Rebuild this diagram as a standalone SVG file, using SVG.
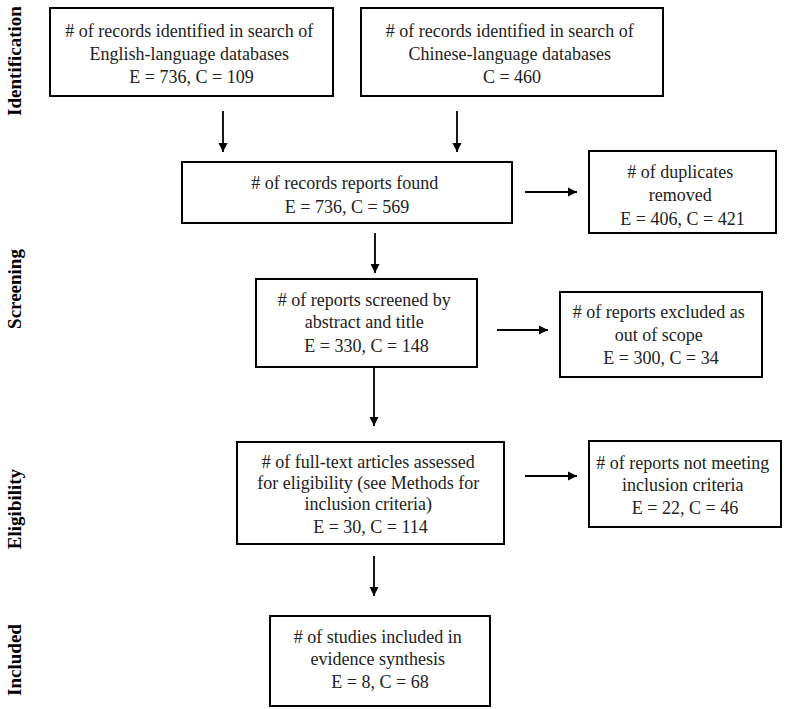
<svg xmlns="http://www.w3.org/2000/svg" width="796" height="709" viewBox="0 0 796 709">
<style>
.box{fill:#fff;stroke:#000;stroke-width:2}
.t{font-family:"Liberation Serif","Times New Roman","DejaVu Serif",serif;font-size:18px;fill:#222;text-anchor:middle}
.side{font-family:"Liberation Serif","Times New Roman","DejaVu Serif",serif;font-size:19px;font-weight:bold;fill:#000;text-anchor:middle}
.c{stroke:#000;stroke-width:1.8;fill:none;marker-end:url(#ah)}
</style>
<defs>
<marker id="ah" viewBox="0 0 10 10" refX="10" refY="5" markerUnits="userSpaceOnUse" markerWidth="9" markerHeight="10" orient="auto">
<path d="M0,0 L10,5 L0,10 Z" fill="#000"/>
</marker>
</defs>
<rect width="796" height="709" fill="#fff"/>
<g id="phases">
<text class="side" transform="translate(21,61) rotate(-90)">Identification</text>
<text class="side" transform="translate(21,289) rotate(-90)">Screening</text>
<text class="side" transform="translate(21,509) rotate(-90)">Eligibility</text>
<text class="side" transform="translate(21,660) rotate(-90)">Included</text>
</g>
<g id="connectors">
<line class="c" x1="223" y1="111" x2="223" y2="152"/>
<line class="c" x1="457" y1="111" x2="457" y2="152"/>
<line class="c" x1="525" y1="192" x2="577" y2="192"/>
<line class="c" x1="375" y1="233" x2="375" y2="273"/>
<line class="c" x1="497" y1="330" x2="548" y2="330"/>
<line class="c" x1="374" y1="368" x2="374" y2="426"/>
<line class="c" x1="525" y1="476" x2="577" y2="476"/>
<line class="c" x1="374" y1="556" x2="374" y2="596"/>
</g>
<g id="n_english">
<rect class="box" x="50" y="8" width="283" height="88"/>
<text class="t">
<tspan x="191.5" y="37"># of records identified in search of</tspan>
<tspan x="191.5" y="60">English-language databases</tspan>
<tspan x="191.5" y="83">E = 736, C = 109</tspan>
</text>
</g>
<g id="n_chinese">
<rect class="box" x="361" y="8" width="302" height="88"/>
<text class="t">
<tspan x="512" y="37"># of records identified in search of</tspan>
<tspan x="512" y="60">Chinese-language databases</tspan>
<tspan x="512" y="83">C = 460</tspan>
</text>
</g>
<g id="n_found">
<rect class="box" x="182" y="162" width="330" height="61"/>
<text class="t">
<tspan x="347" y="189"># of records reports found</tspan>
<tspan x="347" y="213">E = 736, C = 569</tspan>
</text>
</g>
<g id="n_duplicates">
<rect class="box" x="589" y="151" width="187" height="82"/>
<text class="t">
<tspan x="682.5" y="178"># of duplicates</tspan>
<tspan x="682.5" y="201">removed</tspan>
<tspan x="682.5" y="225">E = 406, C = 421</tspan>
</text>
</g>
<g id="n_screened">
<rect class="box" x="256" y="279" width="221" height="88"/>
<text class="t">
<tspan x="366.5" y="306"># of reports screened by</tspan>
<tspan x="366.5" y="328">abstract and title</tspan>
<tspan x="366.5" y="352">E = 330, C = 148</tspan>
</text>
</g>
<g id="n_excluded">
<rect class="box" x="560" y="292" width="202" height="85"/>
<text class="t">
<tspan x="661" y="318"># of reports excluded as</tspan>
<tspan x="661" y="341">out of scope</tspan>
<tspan x="661" y="364">E = 300, C = 34</tspan>
</text>
</g>
<g id="n_fulltext">
<rect class="box" x="237" y="442" width="267" height="102"/>
<text class="t">
<tspan x="370.5" y="468"># of full-text articles assessed</tspan>
<tspan x="370.5" y="489">for eligibility (see Methods for</tspan>
<tspan x="370.5" y="510">inclusion criteria)</tspan>
<tspan x="370.5" y="533">E = 30, C = 114</tspan>
</text>
</g>
<g id="n_notmeeting">
<rect class="box" x="589" y="441" width="192" height="86"/>
<text class="t">
<tspan x="685" y="469"># of reports not meeting</tspan>
<tspan x="685" y="491">inclusion criteria</tspan>
<tspan x="685" y="514">E = 22, C = 46</tspan>
</text>
</g>
<g id="n_included">
<rect class="box" x="270" y="616" width="220" height="90"/>
<text class="t">
<tspan x="380" y="643"># of studies included in</tspan>
<tspan x="380" y="665">evidence synthesis</tspan>
<tspan x="380" y="688">E = 8, C = 68</tspan>
</text>
</g>
</svg>
